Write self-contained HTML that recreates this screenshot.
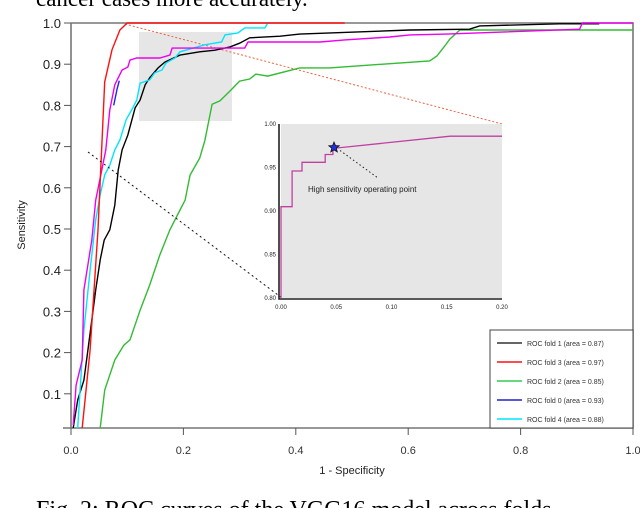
<!DOCTYPE html>
<html><head><meta charset="utf-8"><style>
html,body{margin:0;padding:0;background:#fff;}
svg{display:block;}
text{font-family:"Liberation Sans",sans-serif;}
.serif{font-family:"Liberation Serif",serif;}
</style></head>
<body>
<svg id="chart" width="640" height="508" viewBox="0 0 640 508" xmlns="http://www.w3.org/2000/svg">
<text class="serif" x="36" y="6" font-size="23">cancer cases more accurately.</text>
<text class="serif" x="36" y="517" font-size="24">Fig. 2: ROC curves of the VGG16 model across folds.</text>
<g id="main"></g>
</svg>
<script>
const xTicks=[0,0.2,0.4,0.6,0.8,1.0];
const xTickLabels=["0.0","0.2","0.4","0.6","0.8","1.0"];
const yTicks=[0.1,0.2,0.3,0.4,0.5,0.6,0.7,0.8,0.9,1.0];
const yTickLabels=["0.1","0.2","0.3","0.4","0.5","0.6","0.7","0.8","0.9","1.0"];
const seriesNames=["ROC fold 1 (area = 0.87)","ROC fold 3 (area = 0.97)","ROC  fold  2 (area = 0.85)","ROC fold 0 (area = 0.93)","ROC  fold  4 (area = 0.88)"];
const redFpr=[0.02,0.034,0.048,0.060,0.073,0.087,0.1,0.487];
const redTpr=[0.017,0.206,0.498,0.857,0.935,0.983,1.0,1.0];
const magFpr=[0.004,0.009,0.02,0.023,0.030,0.037,0.044,0.053,0.062,0.069,0.078,0.084,0.091,0.101,0.105,0.117,0.158,0.176,0.180,0.309,0.315,0.443,0.487,0.567,0.603,0.668,0.905,0.910,1.0];
const magTpr=[0.024,0.121,0.182,0.352,0.413,0.473,0.570,0.631,0.692,0.789,0.850,0.867,0.886,0.893,0.910,0.915,0.915,0.922,0.939,0.939,0.954,0.954,0.959,0.966,0.971,0.973,0.985,1.0,1.0];
const blueFpr=[0.076,0.082,0.086];
const blueTpr=[0.80,0.84,0.86];
const cyanFpr=[0.012,0.023,0.034,0.044,0.052,0.060,0.069,0.078,0.087,0.098,0.108,0.117,0.123,0.140,0.149,0.162,0.169,0.185,0.194,0.238,0.268,0.274,0.297,0.309,0.345,0.350,0.354];
const cyanTpr=[0.017,0.255,0.400,0.522,0.583,0.631,0.655,0.692,0.716,0.765,0.789,0.813,0.854,0.862,0.879,0.886,0.903,0.915,0.930,0.947,0.954,0.971,0.976,0.988,0.988,1.0,1.0];
const blackFpr=[0.004,0.012,0.023,0.030,0.037,0.044,0.052,0.059,0.069,0.078,0.084,0.091,0.101,0.114,0.123,0.132,0.140,0.155,0.167,0.194,0.229,0.256,0.283,0.300,0.318,0.372,0.407,0.603,0.709,0.727,0.869,0.94];
const blackTpr=[0.017,0.085,0.133,0.206,0.279,0.352,0.425,0.473,0.498,0.558,0.643,0.692,0.728,0.794,0.813,0.850,0.867,0.891,0.905,0.922,0.930,0.934,0.942,0.951,0.964,0.968,0.973,0.983,0.985,0.993,0.998,0.998];
const greenFpr=[0.052,0.060,0.078,0.094,0.105,0.123,0.140,0.158,0.176,0.194,0.203,0.212,0.229,0.238,0.251,0.265,0.283,0.300,0.318,0.329,0.350,0.407,0.460,0.638,0.651,0.665,0.674,0.692,1.0];
const greenTpr=[0.017,0.109,0.182,0.218,0.231,0.303,0.364,0.437,0.498,0.546,0.570,0.631,0.672,0.714,0.803,0.811,0.835,0.859,0.864,0.876,0.871,0.891,0.891,0.908,0.920,0.944,0.961,0.983,0.983];
const insetXTicks=[0,0.05,0.10,0.15,0.20];
const insetXLabels=["0.00","0.05","0.10","0.15","0.20"];
const insetYTicks=[0.80,0.85,0.90,0.95,1.00];
const insetYLabels=["0.80","0.85","0.90","0.95","1.00"];
const insetFpr=[0,0,0.01,0.01,0.019,0.019,0.04,0.04,0.047,0.047,0.153,0.2];
const insetTpr=[0.8,0.905,0.905,0.946,0.946,0.956,0.956,0.965,0.965,0.972,0.986,0.986];
const opFpr=[0.048];
const opTpr=[0.973];

const NS="http://www.w3.org/2000/svg";
const g=document.getElementById('main');
const X0=71,X1=633,YT=23,YB=428;
const sx=v=>X0+v*(X1-X0);
const sy=v=>YT+(1-v)*412;
const ix=v=>281+v/0.2*221;
const iy=v=>298-(v-0.8)/0.2*174;
function mk(tag,attrs,parent){const e=document.createElementNS(NS,tag);for(const k in attrs)e.setAttribute(k,attrs[k]);(parent||g).appendChild(e);return e;}
function pts(xs,ys,fx,fy){return xs.map((x,i)=>fx(x).toFixed(1)+','+fy(ys[i]).toFixed(1)).join(' ');}

let e=mk('rect',{x:139,y:32,width:93,height:89,fill:'#e6e6e6'});



e=mk('path',{d:`M${X0} ${YT} V${YB} M63 ${YB} H${X1} V${YT} H${X0}`,stroke:'#777',fill:'none','stroke-width':1.6});


xTicks.forEach((t,i)=>{
  let l=mk('line',{x1:sx(t),x2:sx(t),y1:YB,y2:YB+7,stroke:'#555'});
  
  
  let tx=mk('text',{x:sx(t),y:YB+26,'font-size':11,'text-anchor':'middle',fill:'#333'});
  tx.textContent=xTickLabels[i];
  
  
});
yTicks.forEach((t,i)=>{
  let l=mk('line',{x1:X0-7,x2:X0,y1:sy(t),y2:sy(t),stroke:'#555'});
  
  
  let tx=mk('text',{x:X0-10,y:sy(t)+5,'font-size':13,'text-anchor':'end',fill:'#222'});
  tx.textContent=yTickLabels[i];
  
  
});
e=mk('text',{x:352,y:474,'font-size':11,'text-anchor':'middle',fill:'#222'});
e.textContent='1 - Specificity';


e=mk('text',{x:0,y:0,'font-size':11,'text-anchor':'middle',fill:'#222',transform:'translate(25,225) rotate(-90)'});
e.textContent='Sensitivity';



e=mk('line',{x1:125,y1:24,x2:502,y2:124,stroke:'#f06040','stroke-width':1,'stroke-dasharray':'2,2'});



const series=[
 [greenFpr,greenTpr,'#33bb33','green-curve-fold-2'],
 [blackFpr,blackTpr,'#000','black-curve-fold-1'],
 [cyanFpr,cyanTpr,'#00e5ff','cyan-curve-fold-4'],
 [magFpr,magTpr,'#ee00ee','magenta-curve'],
 [blueFpr,blueTpr,'#2222ee','blue-curve-fold-0'],
 [redFpr,redTpr,'#ff1010','red-curve-fold-3']];
series.forEach(s=>{
  let p=mk('polyline',{points:pts(s[0],s[1],sx,sy),fill:'none',stroke:s[2],'stroke-width':1.4});
  
  
});

e=mk('line',{x1:88,y1:152,x2:282,y2:298,stroke:'#111','stroke-width':1,'stroke-dasharray':'2,3'});



e=mk('rect',{x:281,y:124,width:221,height:174,fill:'#e6e6e6'});


e=mk('path',{d:'M279 124 V299 H502',stroke:'#222',fill:'none','stroke-width':1.6});


insetYTicks.forEach((t,i)=>{
  let tx=mk('text',{x:276,y:iy(t)+2,'font-size':6,'text-anchor':'end',fill:'#222'});
  tx.textContent=insetYLabels[i];
  
  
});
insetXTicks.forEach((t,i)=>{
  let tx=mk('text',{x:ix(t),y:309,'font-size':6,'text-anchor':'middle',fill:'#222'});
  tx.textContent=insetXLabels[i];
  
  
});
e=mk('polyline',{points:pts(insetFpr,insetTpr,ix,iy),fill:'none',stroke:'#c040a0','stroke-width':1.3});


const px=ix(opFpr[0]),py=iy(opTpr[0]);
e=mk('line',{x1:px+6,y1:py+3,x2:378,y2:178,stroke:'#222','stroke-dasharray':'1.5,2.5'});


let star='';for(let k=0;k<10;k++){const r=k%2?2.4:5.5,a=-Math.PI/2+k*Math.PI/5;star+=(px+r*Math.cos(a)).toFixed(1)+','+(py+r*Math.sin(a)).toFixed(1)+' ';}
e=mk('polygon',{points:star,fill:'#2030e0',stroke:'#111','stroke-width':0.8});


e=mk('text',{x:308,y:192,'font-size':8,fill:'#222'});
e.textContent='High sensitivity operating point';



e=mk('rect',{x:490,y:330,width:143,height:98,fill:'#fff',stroke:'#444','stroke-width':1});


const legColors=['#333','#ff1010','#33cc55','#2222cc','#00e5ff'];
seriesNames.forEach((n,i)=>{
  const y=343+i*19;
  let l=mk('line',{x1:497,x2:522,y1:y,y2:y,stroke:legColors[i],'stroke-width':1.4});
  
  
  let t=mk('text',{x:527,y:y+3,'font-size':7,fill:'#333'});
  t.textContent=n;
  
  
});
</script>
</body></html>
